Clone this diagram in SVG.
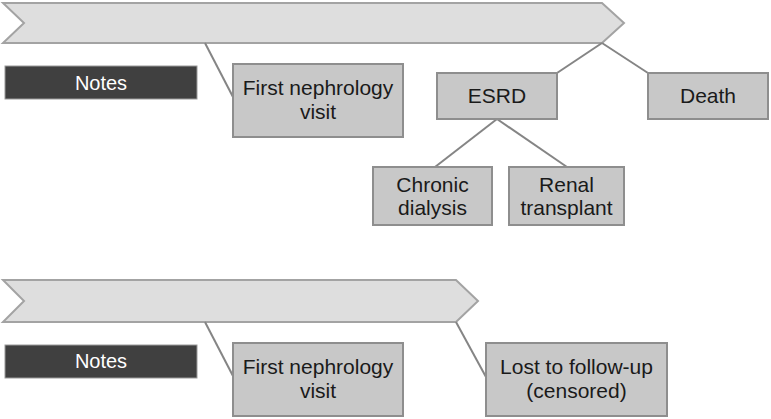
<svg xmlns="http://www.w3.org/2000/svg" width="771" height="419" viewBox="0 0 771 419">
<style>
.arrow{fill:#dedede;stroke:#a3a3a3;stroke-width:2}
.box{fill:#c8c8c8;stroke:#8e8e8e;stroke-width:2}
.note{fill:#404040;stroke:#9a9a9a;stroke-width:1}
.t{font-family:"Liberation Sans",Arial,sans-serif;font-size:21px;fill:#1a1a1a;text-anchor:middle}
.nt{font-family:"Liberation Sans",Arial,sans-serif;font-size:20px;fill:#ffffff;text-anchor:middle}
.c{stroke:#858585;stroke-width:2;fill:none}
</style>
<rect width="771" height="419" fill="#ffffff"/>
<g id="timeline1"><polygon class="arrow" points="3,3 602,3 624,23 602,43 3,43 24,23"/></g>
<g id="timeline2"><polygon class="arrow" points="3,280 456,280 478,301 456,322 3,322 24,301"/></g>
<g id="connectors">
<line class="c" x1="205" y1="43" x2="233" y2="97"/>
<line class="c" x1="602" y1="43" x2="557" y2="73"/>
<line class="c" x1="602" y1="43" x2="648" y2="73"/>
<line class="c" x1="497" y1="119" x2="435" y2="167"/>
<line class="c" x1="497" y1="119" x2="567" y2="167"/>
<line class="c" x1="205" y1="322" x2="233" y2="376"/>
<line class="c" x1="456" y1="322" x2="486" y2="377"/>
</g>
<g id="notes1"><rect class="note" x="5" y="66" width="192" height="33"/><text class="nt" x="101" y="90">Notes</text></g>
<g id="first1"><rect class="box" x="233" y="64" width="170" height="73"/><text class="t" x="318" y="95">First nephrology</text><text class="t" x="318" y="119">visit</text></g>
<g id="esrd"><rect class="box" x="437" y="73" width="120" height="46"/><text class="t" x="497" y="103">ESRD</text></g>
<g id="death"><rect class="box" x="648" y="73" width="120" height="46"/><text class="t" x="708" y="103">Death</text></g>
<g id="dialysis"><rect class="box" x="373" y="167" width="119" height="58"/><text class="t" x="432.5" y="192">Chronic</text><text class="t" x="432.5" y="215">dialysis</text></g>
<g id="transplant"><rect class="box" x="509" y="167" width="115" height="58"/><text class="t" x="566.5" y="192">Renal</text><text class="t" x="566.5" y="215">transplant</text></g>
<g id="notes2"><rect class="note" x="5" y="345" width="192" height="33"/><text class="nt" x="101" y="368">Notes</text></g>
<g id="first2"><rect class="box" x="233" y="343" width="170" height="73"/><text class="t" x="318" y="374">First nephrology</text><text class="t" x="318" y="398">visit</text></g>
<g id="lost"><rect class="box" x="486" y="343" width="181" height="73"/><text class="t" x="576.5" y="374">Lost to follow-up</text><text class="t" x="576.5" y="398">(censored)</text></g>
</svg>
